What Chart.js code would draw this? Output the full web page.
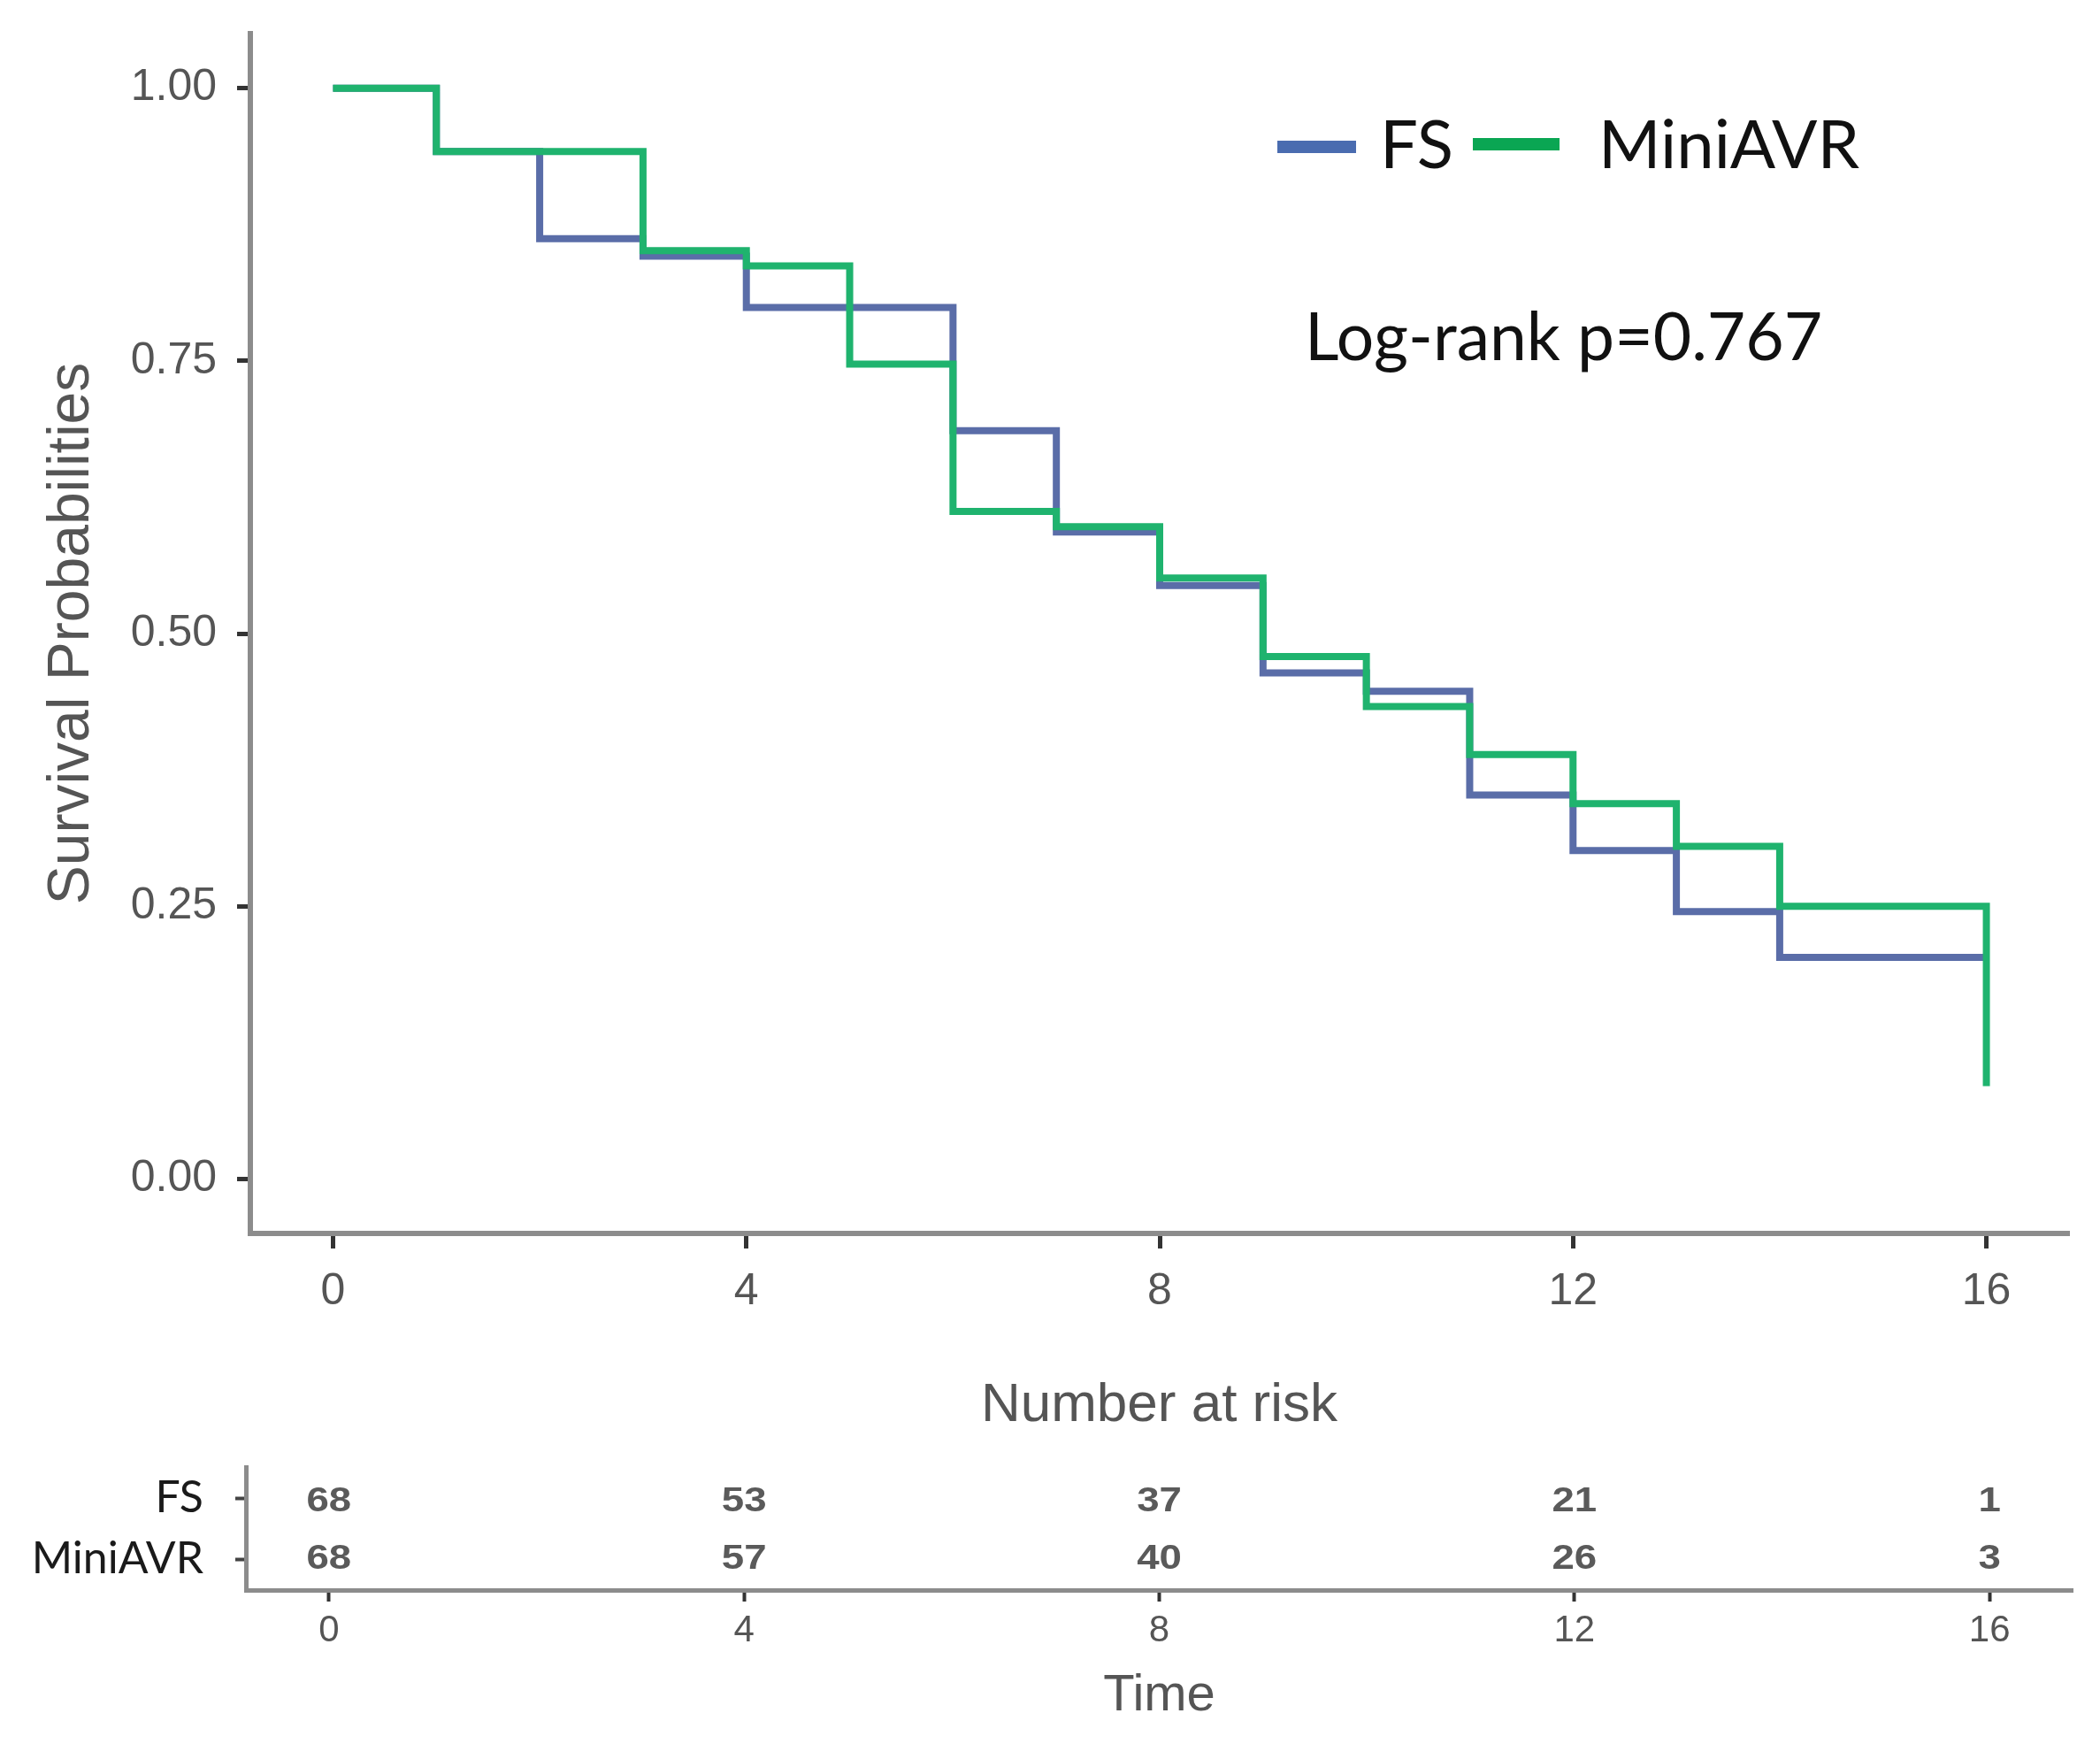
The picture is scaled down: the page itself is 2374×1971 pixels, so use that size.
<!DOCTYPE html>
<html><head><meta charset="utf-8">
<script src="https://cdn.jsdelivr.net/npm/chart.js@4.4.1/dist/chart.umd.min.js"></script>
<style>
html,body{margin:0;padding:0;background:#fff;width:2374px;height:1971px;overflow:hidden}
#main{position:absolute;left:0;top:0}
#risk{position:absolute;left:0;top:1500px}
</style></head><body>
<canvas id="main" width="2374" height="1500" style="width:2374px;height:1500px"></canvas>
<canvas id="risk" width="2374" height="471" style="width:2374px;height:471px"></canvas>
<script>
// ---- data ----
const seriesNames = ['FS', 'MiniAVR'];
const fsTimes = [0, 1, 2, 3, 4, 6, 7, 8, 9, 10, 11, 12, 13, 14, 16];
const fsSurvival = [1.000, 0.942, 0.862, 0.846, 0.799, 0.686, 0.593, 0.544, 0.464, 0.447, 0.352, 0.301, 0.245, 0.203, 0.203];
const miniTimes = [0, 1, 3, 4, 5, 6, 7, 8, 9, 10, 11, 12, 13, 14, 16];
const miniSurvival = [1.000, 0.942, 0.851, 0.837, 0.747, 0.612, 0.598, 0.551, 0.479, 0.433, 0.389, 0.344, 0.305, 0.250, 0.085];
const xTicks = [0, 4, 8, 12, 16];
const yTicks = [0, 0.25, 0.5, 0.75, 1];
const riskTimes = [0, 4, 8, 12, 16];
const riskFS = [68, 53, 37, 21, 1];
const riskMini = [68, 57, 40, 26, 3];
const pValueText = 'Log-rank p=0.767';

// ---- styles ----
const COL_FS = '#5a6da8';
const COL_MINI = '#1fb36e';
const LEG_FS = '#4a6cb0';
const LEG_MINI = '#0aa653';
const AX_GRAY = '#8c8c8c';
const TXT_GRAY = '#555555';
const ARIAL = "'Liberation Sans', Arial, sans-serif";
const CAL = "Lato, 'Open Sans', sans-serif";

function noPad(a) { a.paddingTop = 0; a.paddingBottom = 0; a.paddingLeft = 0; a.paddingRight = 0; }

const annotPlugin = {
  id: 'annot',
  afterDraw(chart) {
    const ctx = chart.ctx;
    ctx.save();
    ctx.lineCap = 'butt';
    ctx.lineWidth = 14;
    ctx.strokeStyle = LEG_FS;
    ctx.beginPath(); ctx.moveTo(1444, 166); ctx.lineTo(1533, 166); ctx.stroke();
    ctx.strokeStyle = LEG_MINI;
    ctx.beginPath(); ctx.moveTo(1665, 163); ctx.lineTo(1763, 163); ctx.stroke();
    ctx.fillStyle = '#111';
    ctx.textBaseline = 'alphabetic';
    ctx.textAlign = 'left';
    ctx.font = '76px ' + CAL;
    ctx.fillText(seriesNames[0], 1560, 190);
    ctx.fillText(seriesNames[1], 1807, 190);
    ctx.font = '75px ' + CAL;
    ctx.fillText(pValueText, 1475, 407);
    ctx.restore();
  }
};

const mainChart = new Chart(document.getElementById('main'), {
  type: 'line',
  data: {
    datasets: [
      { label: seriesNames[0], data: fsTimes.map((t, i) => ({ x: t, y: fsSurvival[i] })),
        borderColor: COL_FS, borderWidth: 8, stepped: 'before', pointRadius: 0, fill: false, order: 2 },
      { label: seriesNames[1], data: miniTimes.map((t, i) => ({ x: t, y: miniSurvival[i] })),
        borderColor: COL_MINI, borderWidth: 8, stepped: 'before', pointRadius: 0, fill: false, order: 1 }
    ]
  },
  options: {
    responsive: false, devicePixelRatio: 1, animation: false,
    layout: { padding: { left: 0, top: 38, right: 35, bottom: 0 } },
    plugins: { legend: { display: false }, tooltip: { enabled: false } },
    scales: {
      x: {
        type: 'linear', min: -0.8, max: 16.8,
        afterBuildTicks: a => { a.ticks = xTicks.map(v => ({ value: v })); },
        afterFit: a => { a.height = 106; noPad(a); },
        ticks: { font: { family: ARIAL, size: 50 }, color: TXT_GRAY, padding: 19, autoSkip: false, maxRotation: 0, callback: v => String(v) },
        grid: { display: true, drawOnChartArea: false, drawTicks: true, tickLength: 17, tickColor: '#333', tickWidth: 5 },
        border: { display: true, color: AX_GRAY, width: 6 }
      },
      y: {
        type: 'linear', min: -0.05, max: 1.05,
        afterBuildTicks: a => { a.ticks = yTicks.map(v => ({ value: v })); },
        afterFit: a => { a.width = 283; noPad(a); },
        ticks: { font: { family: ARIAL, size: 50 }, color: TXT_GRAY, padding: 23, autoSkip: false, callback: v => Number(v).toFixed(2) },
        grid: { display: true, drawOnChartArea: false, drawTicks: true, tickLength: 15, tickColor: '#333', tickWidth: 5 },
        border: { display: true, color: AX_GRAY, width: 6 },
        title: { display: true, text: 'Survival Probabilities', font: { family: ARIAL, size: 66 }, color: TXT_GRAY, padding: { top: 42, bottom: 0 } }
      }
    }
  },
  plugins: [annotPlugin]
});

const riskTextPlugin = {
  id: 'riskText',
  afterDatasetsDraw(chart) {
    const ctx = chart.ctx;
    ctx.save();
    ctx.fillStyle = '#5a5a5a';
    ctx.font = 'bold 38px ' + ARIAL;
    ctx.textAlign = 'center';
    ctx.textBaseline = 'middle';
    chart.data.datasets.forEach((ds, di) => {
      const meta = chart.getDatasetMeta(di);
      meta.data.forEach((pt, i) => {
        ctx.save();
        ctx.translate(pt.x, pt.y + (di === 0 ? 4 : 0));
        ctx.scale(1.2, 1);
        ctx.fillText(String(ds.data[i].n), 0, 0);
        ctx.restore();
      });
    });
    ctx.restore();
  }
};

const riskChart = new Chart(document.getElementById('risk'), {
  type: 'scatter',
  data: {
    datasets: [
      { label: seriesNames[0], data: riskTimes.map((t, i) => ({ x: t, y: seriesNames[0], n: riskFS[i] })), pointRadius: 0, showLine: false },
      { label: seriesNames[1], data: riskTimes.map((t, i) => ({ x: t, y: seriesNames[1], n: riskMini[i] })), pointRadius: 0, showLine: false }
    ]
  },
  options: {
    responsive: false, devicePixelRatio: 1, animation: false,
    layout: { padding: { left: 0, top: 0, right: 31, bottom: 0 } },
    plugins: {
      legend: { display: false }, tooltip: { enabled: false },
      title: { display: true, fullSize: false, text: 'Number at risk', font: { family: ARIAL, size: 62, weight: 'normal' }, color: TXT_GRAY, padding: { top: 52, bottom: 32 } }
    },
    scales: {
      x: {
        type: 'linear', min: -0.8, max: 16.8,
        afterBuildTicks: a => { a.ticks = riskTimes.map(v => ({ value: v })); },
        afterFit: a => { a.height = 174; noPad(a); },
        ticks: { font: { family: ARIAL, size: 42 }, color: TXT_GRAY, padding: 8, autoSkip: false, maxRotation: 0, callback: v => String(v) },
        grid: { display: true, drawOnChartArea: false, drawTicks: true, tickLength: 13, tickColor: '#333', tickWidth: 4 },
        border: { display: true, color: AX_GRAY, width: 5 },
        title: { display: true, text: 'Time', font: { family: ARIAL, size: 58 }, color: TXT_GRAY, padding: { top: 0, bottom: 19 } }
      },
      y: {
        type: 'category', labels: seriesNames, offset: true,
        afterFit: a => { a.width = 278; noPad(a); },
        ticks: { font: { family: CAL, size: 50 }, color: '#1a1a1a', padding: 36, autoSkip: false },
        grid: { display: true, offset: false, drawOnChartArea: false, drawTicks: true, tickLength: 12, tickColor: '#444', tickWidth: 4 },
        border: { display: true, color: AX_GRAY, width: 5 }
      }
    }
  },
  plugins: [riskTextPlugin]
});
</script>
</body></html>
